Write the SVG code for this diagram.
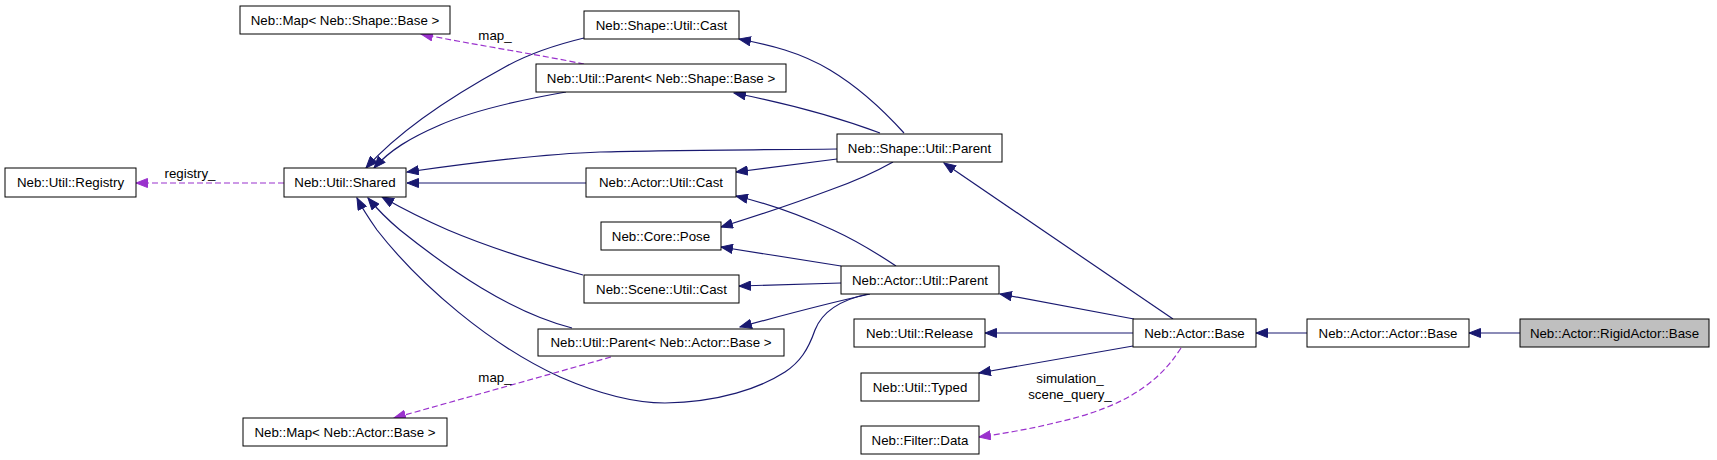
<svg xmlns="http://www.w3.org/2000/svg" width="1717" height="460" viewBox="0 0 1717 460">
<defs>
<marker id="ab" markerUnits="userSpaceOnUse" markerWidth="13" markerHeight="10" refX="12" refY="5" orient="auto" viewBox="0 0 13 10"><path d="M0.5,0.5 L12,5 L0.5,9.5 z" fill="#191970" stroke="#191970"/></marker>
<marker id="ap" markerUnits="userSpaceOnUse" markerWidth="13" markerHeight="10" refX="12" refY="5" orient="auto" viewBox="0 0 13 10"><path d="M0.5,0.5 L12,5 L0.5,9.5 z" fill="#9a32cd" stroke="#9a32cd"/></marker>
</defs>
<style>
rect{fill:#fff;stroke:#000;stroke-width:1}
text{font-family:"Liberation Sans",Arial,sans-serif;font-size:13.3px;fill:#000;text-anchor:middle}
.e{fill:none;stroke:#191970;stroke-width:1.2;marker-end:url(#ab)}
.d{fill:none;stroke:#9a32cd;stroke-width:1.2;stroke-dasharray:6,3;marker-end:url(#ap)}
</style>
<rect width="1717" height="460" style="fill:#fff;stroke:none"/>
<g id="connectors">
<path class="e" d="M584,38 C555,45 530,53 505,67 C450,97 400,130 366,168"/>
<path class="e" d="M566,92 C520,100 470,112 440,125 C410,138 390,150 374,168"/>
<path class="e" d="M837,149 C760,150 660,150 600,152 C540,154 470,163 407,172"/>
<path class="e" d="M586,183 L407,183"/>
<path class="e" d="M583,275 C550,266 500,252 448,230 C425,220 405,210 382,197"/>
<path class="e" d="M572,328 C510,312 450,270 400,230 C388,220 378,210 368,198"/>
<path class="e" d="M868,294 C840,300 822,312 815,330 C808,350 800,362 785,372 C760,388 720,402 665,403 C630,403 590,390 560,377 C490,345 420,285 377,230 C370,220 363,210 357,198"/>
<path class="d" d="M584,64 C540,55 470,44 421,34"/>
<path class="d" d="M284,183 L136,183"/>
<path class="d" d="M611,357 L394,418"/>
<path class="e" d="M904,133 C885,112 860,88 830,70 C800,52 770,45 739,39"/>
<path class="e" d="M880,133 C840,118 790,104 734,93"/>
<path class="e" d="M837,159 L736,172"/>
<path class="e" d="M893,162 C870,175 850,183 830,190 C790,205 750,218 721,227"/>
<path class="e" d="M896,266 C875,252 855,240 833,230 C800,215 770,204 736,196"/>
<path class="e" d="M841,266 L721,247"/>
<path class="e" d="M841,283 L739,286"/>
<path class="e" d="M870,294 C820,305 780,316 740,327"/>
<path class="e" d="M1173,319 L944,163"/>
<path class="e" d="M1134,319 L1000,294"/>
<path class="e" d="M1133,333 L985,333"/>
<path class="e" d="M1133,346 L979,373"/>
<path class="d" d="M1181,348 C1170,365 1160,375 1147,385 C1120,405 1090,415 1050,424 C1030,429 1000,434 979,437"/>
<path class="e" d="M1307,333 L1256,333"/>
<path class="e" d="M1520,333 L1469,333"/>
<text x="495" y="40">map_</text>
<text x="190" y="178">registry_</text>
<text x="495" y="382">map_</text>
<text x="1070" y="383">simulation_</text>
<text x="1070" y="399">scene_query_</text>
</g>
<g id="map_shape"><rect x="240" y="6" width="210" height="28"/><text x="345" y="24.5">Neb::Map&lt; Neb::Shape::Base &gt;</text></g>
<g id="registry"><rect x="5" y="168" width="131" height="29"/><text x="70.5" y="187">Neb::Util::Registry</text></g>
<g id="shared"><rect x="284" y="168" width="122" height="29"/><text x="345" y="187">Neb::Util::Shared</text></g>
<g id="shape_cast"><rect x="584" y="11" width="155" height="28"/><text x="661.5" y="29.5">Neb::Shape::Util::Cast</text></g>
<g id="util_parent_shape"><rect x="536" y="64" width="250" height="28"/><text x="661" y="82.5">Neb::Util::Parent&lt; Neb::Shape::Base &gt;</text></g>
<g id="shape_parent"><rect x="837" y="134" width="165" height="28"/><text x="919.5" y="152.5">Neb::Shape::Util::Parent</text></g>
<g id="actor_cast"><rect x="586" y="168" width="150" height="29"/><text x="661" y="187">Neb::Actor::Util::Cast</text></g>
<g id="core_pose"><rect x="601" y="222" width="120" height="28"/><text x="661" y="240.5">Neb::Core::Pose</text></g>
<g id="actor_parent"><rect x="841" y="266" width="158" height="28"/><text x="920" y="284.5">Neb::Actor::Util::Parent</text></g>
<g id="scene_cast"><rect x="584" y="275" width="155" height="28"/><text x="661.5" y="293.5">Neb::Scene::Util::Cast</text></g>
<g id="util_parent_actor"><rect x="538" y="329" width="246" height="27"/><text x="661" y="347">Neb::Util::Parent&lt; Neb::Actor::Base &gt;</text></g>
<g id="map_actor"><rect x="243" y="418" width="204" height="28"/><text x="345" y="436.5">Neb::Map&lt; Neb::Actor::Base &gt;</text></g>
<g id="util_release"><rect x="854" y="319" width="131" height="28"/><text x="919.5" y="337.5">Neb::Util::Release</text></g>
<g id="util_typed"><rect x="861" y="373" width="118" height="28"/><text x="920" y="391.5">Neb::Util::Typed</text></g>
<g id="filter_data"><rect x="861" y="426" width="118" height="28"/><text x="920" y="444.5">Neb::Filter::Data</text></g>
<g id="actor_base"><rect x="1133" y="319" width="123" height="28"/><text x="1194.5" y="337.5">Neb::Actor::Base</text></g>
<g id="actor_actor_base"><rect x="1307" y="319" width="162" height="28"/><text x="1388" y="337.5">Neb::Actor::Actor::Base</text></g>
<g id="rigid_actor_base"><rect x="1520" y="319" width="189" height="28" style="fill:#bfbfbf"/><text x="1614.5" y="337.5">Neb::Actor::RigidActor::Base</text></g>
</svg>
